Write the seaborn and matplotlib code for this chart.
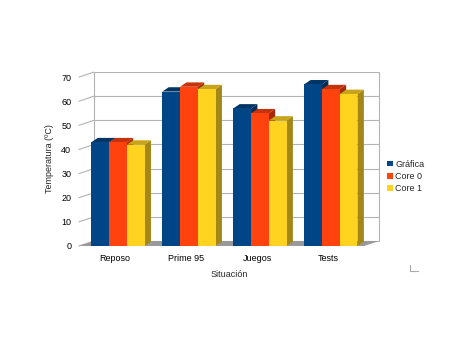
import matplotlib
matplotlib.use("Agg")
import matplotlib.pyplot as plt
import seaborn as sns
import pandas as pd
from matplotlib.patches import Polygon

categories = ["Reposo", "Prime 95", "Juegos", "Tests"]
series_names = ["Gráfica", "Core 0", "Core 1"]
grafica = [43, 64, 57, 67]
core0 = [43, 66, 55, 65]
core1 = [42, 65, 52, 63]
yticks = [0, 10, 20, 30, 40, 50, 60, 70]

colors = ["#004586", "#ff420e", "#ffd320"]
side_colors = ["#002c57", "#a5290a", "#a38718"]
top_colors = ["#003566", "#c4330b", "#c7a41a"]

rows = []
for name, vals in zip(series_names, [grafica, core0, core1]):
    for c, v in zip(categories, vals):
        rows.append({"Situación": c, "Serie": name, "Temp": v})
df = pd.DataFrame(rows)

sns.set_style("white")
plt.rcParams['font.family'] = ['Liberation Sans', 'DejaVu Sans']

fig = plt.figure(figsize=(4.59, 3.45), dpi=100)
ax = fig.add_axes([0.172, 0.287, 0.654, 0.504])

xmin, xmax = -0.51, 3.72
wdx, wdy = 0.21, 2.07      # wall depth
dx, dy = 0.09, 1.8         # bar depth

# back wall gridlines
for t in yticks:
    ax.plot([xmin + wdx, xmax], [t + wdy, t + wdy], color="#b3b3b3", lw=0.8, zorder=0)
    ax.plot([xmin, xmin + wdx], [t, t + wdy], color="#b3b3b3", lw=0.8, zorder=0, clip_on=False)
ax.plot([xmin + wdx, xmin + wdx], [wdy, yticks[-1] + wdy], color="#b3b3b3", lw=0.8, zorder=0)
ax.plot([xmax, xmax], [wdy, yticks[-1] + wdy], color="#b3b3b3", lw=0.8, zorder=0, clip_on=False)

# floor
ax.add_patch(Polygon([[xmin, 0], [xmax - wdx, 0], [xmax, wdy], [xmin + wdx, wdy]],
                     closed=True, facecolor="#999999", edgecolor="none", zorder=0.5, clip_on=False))

sns.barplot(data=df, x="Situación", y="Temp", hue="Serie", palette=colors,
            width=0.75, saturation=1, ax=ax, zorder=2, linewidth=0, legend=True)

shift = 0.04  # perspective offset of bars relative to labels
for container, sc, tc in zip(ax.containers, side_colors, top_colors):
    for p in container.patches:
        p.set_x(p.get_x() + shift)
        x0 = p.get_x()
        w = p.get_width()
        h = p.get_height()
        ax.add_patch(Polygon([[x0 + w, 0], [x0 + w + dx, dy], [x0 + w + dx, h + dy], [x0 + w, h]],
                             closed=True, facecolor=sc, edgecolor="none", zorder=1.9))
        ax.add_patch(Polygon([[x0, h], [x0 + dx, h + dy], [x0 + w + dx, h + dy], [x0 + w, h]],
                             closed=True, facecolor=tc, edgecolor="none", zorder=1.9))

ax.set_xlim(xmin, xmax)
ax.set_ylim(0, 70 + wdy)
ax.set_yticks(yticks)
ax.tick_params(axis="both", labelsize=6.5, length=0, colors="#000000")
ax.tick_params(axis="y", pad=5.5)
ax.tick_params(axis="x", pad=6)
for s in ["top", "right", "bottom", "left"]:
    ax.spines[s].set_visible(False)
ax.set_xlabel("Situación", fontsize=6.5, labelpad=4.5)
ax.set_ylabel("Temperatura (ºC)", fontsize=6.5, labelpad=5)

leg = ax.legend(loc="center left", bbox_to_anchor=(1.0, 0.40), frameon=False,
                fontsize=6.5, handlelength=0.6, handleheight=0.6, handletextpad=0.3,
                labelspacing=0.35)

# small corner mark
fig.lines.append(plt.Line2D([0.893, 0.893, 0.91], [0.232, 0.215, 0.215],
                            transform=fig.transFigure, color="#aaaaaa", lw=0.8))

fig.savefig("out.png", dpi=100)
